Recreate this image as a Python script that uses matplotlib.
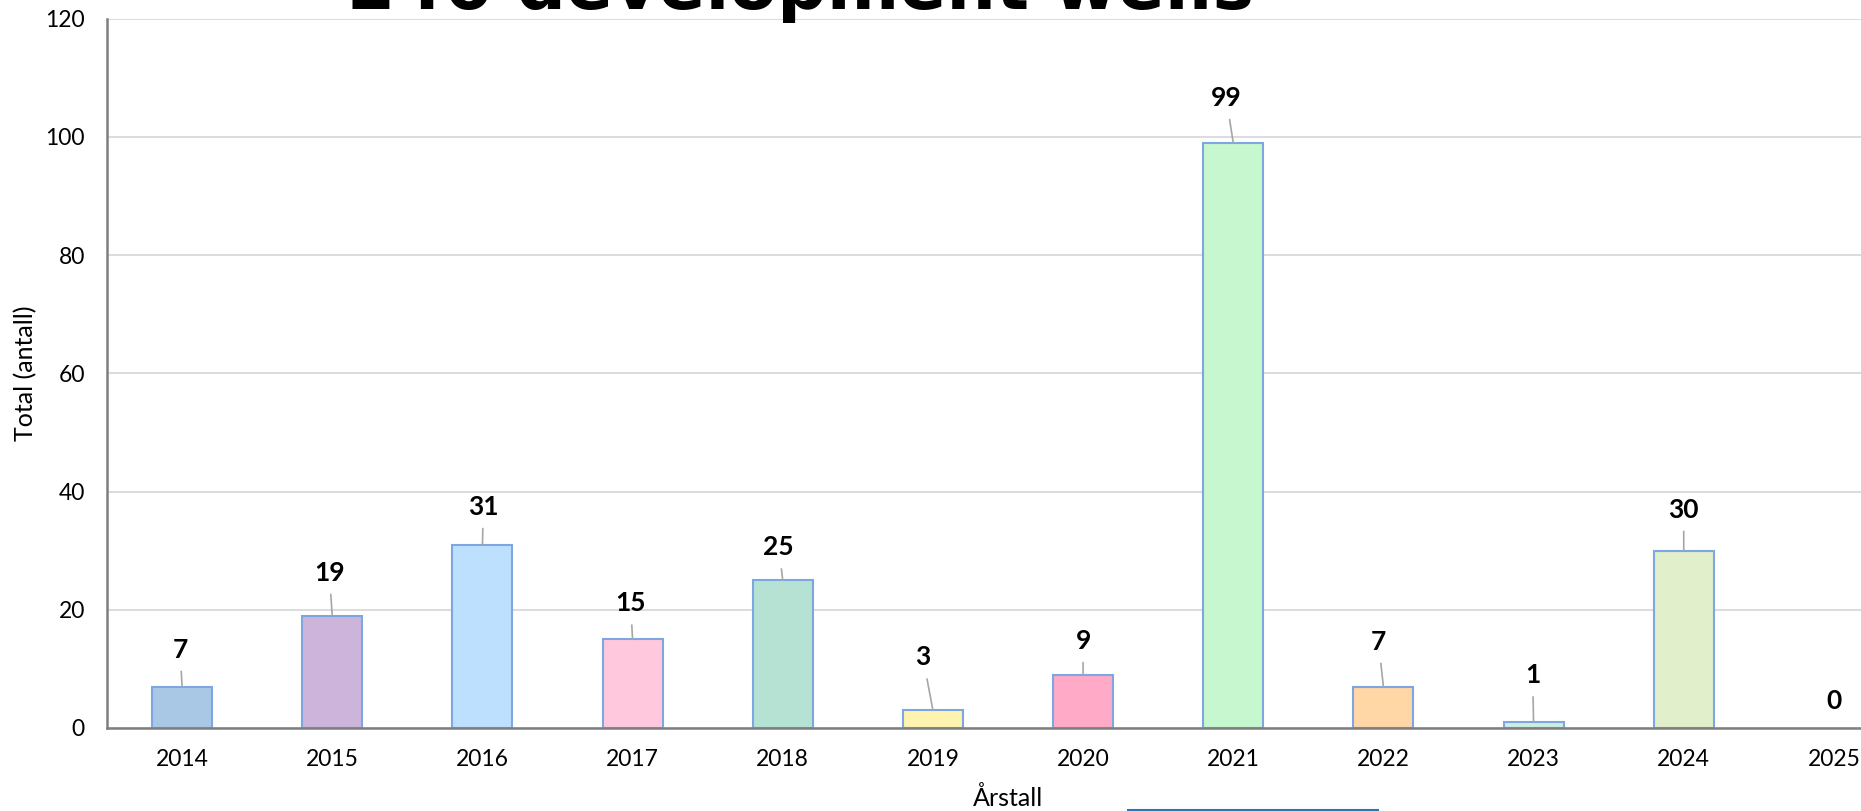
import matplotlib
matplotlib.use("Agg")
import matplotlib.pyplot as plt
from matplotlib.lines import Line2D

plt.rcParams['font.family'] = ['Lato', 'DejaVu Sans']

years = ["2014", "2015", "2016", "2017", "2018", "2019", "2020", "2021", "2022", "2023", "2024", "2025"]
wells = [7, 19, 31, 15, 25, 3, 9, 99, 7, 1, 30, 0]
bar_colors = ["#a9c8e6", "#cdb4db", "#bde0fe", "#ffc8dd", "#b5e2d3", "#fff3b0",
              "#ffabc8", "#c6f7cf", "#ffd6a5", "#cdeee0", "#e1efcb", "#e1efcb"]
title = "246 development wells"

# label offsets from bar top, in pixels (dx, dy)
label_offsets = [(-2, 37), (-3, 43), (1, 38), (-2, 36), (-4, 33), (-10, 53),
                 (0, 34), (-7, 45), (-5, 45), (-1, 47), (0, 41), (0, 27)]

W, H = 1861, 811
fig = plt.figure(figsize=(W / 100, H / 100), dpi=100)
ax = fig.add_axes([107 / W, 83 / H, 1802 / W, 709.3 / H])

x = range(len(years))
edges = ["#7ea6e0" if v > 0 else "none" for v in wells]
ax.bar(x, wells, width=0.4, color=bar_colors, edgecolor=edges, linewidth=1.5, zorder=3)

ax.set_xlim(-0.5, 11.5)
ax.set_ylim(0, 120)
ax.set_yticks(range(0, 121, 20))
ax.set_xticks(list(x))
ax.set_xticklabels(years)
ax.grid(axis="y", color="#d9d9d9", linewidth=1.3, zorder=0)
ax.set_axisbelow(True)

for s in ["top", "right"]:
    ax.spines[s].set_visible(False)
for s in ["left", "bottom"]:
    ax.spines[s].set_color("#7f7f7f")
    ax.spines[s].set_linewidth(1.8)
    ax.spines[s].set_zorder(4)

ax.tick_params(axis="both", length=0, labelsize=16.5, colors="#000000")
ax.tick_params(axis="x", pad=15)
ax.tick_params(axis="y", pad=16)

ax.set_xlabel("Årstall", fontsize=18)
ax.xaxis.label.set_va("center")
ax.xaxis.set_label_coords(0.5, -0.099)
ax.set_ylabel("Total (antall)", fontsize=18)
ax.yaxis.label.set_va("center")
ax.yaxis.set_label_coords(-0.045, 0.5)

for i, v in enumerate(wells):
    dx, dy = label_offsets[i]
    arrow = None
    if v > 0:
        arrow = dict(arrowstyle="-", color="#a6a6a6", lw=1.2, shrinkA=5, shrinkB=0)
    ax.annotate(str(v), xy=(i, v), xytext=(dx, dy), textcoords="offset pixels",
                ha="center", va="center", fontsize=19, fontweight="bold",
                arrowprops=arrow, zorder=5)

fig.text(800 / W, 1 - 9 / H, title, ha="center", va="baseline",
         fontsize=50, fontweight="bold", family="DejaVu Sans")

# edge of a box below the chart
fig.add_artist(Line2D([1128 / W, 1378 / W], [1.5 / H, 1.5 / H],
                      color="#2e75b6", linewidth=1.5, transform=fig.transFigure))

fig.savefig("out.png", dpi=100)
